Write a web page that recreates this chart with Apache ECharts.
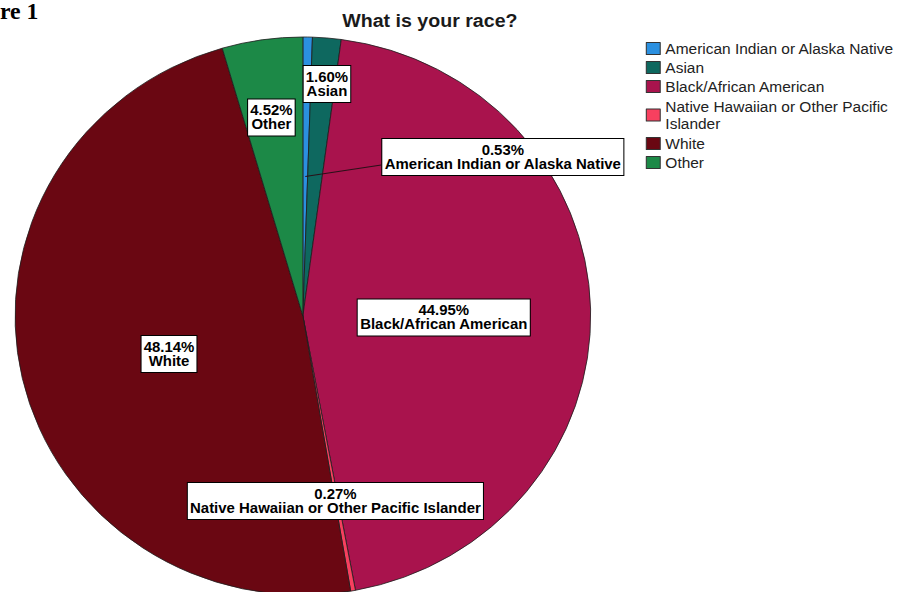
<!DOCTYPE html>
<html>
<head>
<meta charset="utf-8">
<script src="https://cdn.jsdelivr.net/npm/echarts@6/dist/echarts.min.js"></script>
<style>
  html, body { margin: 0; padding: 0; background: #fff; overflow: hidden; }
  #wrap { width: 915px; height: 592px; overflow: hidden; position: relative; }
  /* the figure is drawn slightly narrower and widened to its final aspect */
  #chart { width: 887px; height: 592px; transform: scaleX(1.0316); transform-origin: 0 0; }
</style>
</head>
<body>
<div id="wrap"><div id="chart"></div></div>
<script>
// ---- data ----
const categories = [
  'American Indian or Alaska Native',
  'Asian',
  'Black/African American',
  'Native Hawaiian or Other Pacific Islander',
  'White',
  'Other'
];
const percents = [0.53, 1.60, 44.95, 0.27, 48.14, 4.52];
const sliceColors = ['#2b90e0', '#0e685f', '#a9134d', '#f7405f', '#6a0712', '#1c8947'];
const chartTitle = 'What is your race?';
const figureTag = 're 1';
const legendWrap = { 'Native Hawaiian or Other Pacific Islander': 'Native Hawaiian or Other Pacific\nIslander' };

// ---- layout ----
const CX = 293.6, CY = 316, R = 279;
// offset of each label box centre from its slice's half-radius point
const labelOffsets = [[191.5, -19.5], [11.7, -93], [-2.9, 5], [7.2, 47.6], [6.2, 6.9], [-10.8, -60.4]];
// the one slice whose label sits away from it, joined by a leader line
const calloutIndex = 0;

const total = percents.reduce((a, b) => a + b, 0);
const anchors = [];
let acc = 0;
percents.forEach(v => {
  const mid = (acc + v / 2) / total * 2 * Math.PI;
  anchors.push([CX + R / 2 * Math.sin(mid), CY - R / 2 * Math.cos(mid)]);
  acc += v;
});

let calloutLine = null;

const chart = echarts.init(document.getElementById('chart'), null, { renderer: 'svg' });

const staticGraphics = [
  {
    id: 'tag', type: 'text', left: 0, top: 0, silent: true,
    style: {
      text: figureTag, font: 'bold 23px "Liberation Serif", "Times New Roman", serif',
      lineHeight: 17, fill: '#000'
    }
  },
  {
    id: 'title', type: 'text', x: 416.7, y: 21, silent: true,
    style: {
      text: chartTitle, font: 'bold 19px "Liberation Sans", Arial, sans-serif', fill: '#1a1a1a',
      textAlign: 'center', textVerticalAlign: 'middle'
    }
  }
];

chart.setOption({
  backgroundColor: '#fff',
  animation: false,
  graphic: staticGraphics,
  legend: {
    orient: 'vertical',
    left: 626,
    top: 41,
    padding: 0,
    icon: 'rect',
    itemWidth: 13.5,
    itemHeight: 12,
    itemGap: 4,
    selectedMode: false,
    itemStyle: { borderColor: '#333', borderWidth: 1 },
    textStyle: {
      fontFamily: '"Liberation Sans", Arial, sans-serif',
      fontSize: 15,
      lineHeight: 15,
      color: '#222'
    },
    formatter: name => legendWrap[name] || name,
    data: categories.map(name => legendWrap[name]
      ? { name: name, textStyle: { lineHeight: 17 } }
      : { name: name })
  },
  series: [{
    type: 'pie',
    center: [CX, CY],
    radius: R,
    startAngle: 90,
    clockwise: true,
    avoidLabelOverlap: false,
    silent: true,
    z: 2,
    itemStyle: { borderColor: '#1e1e1e', borderWidth: 0.8 },
    label: {
      position: 'inside',
      formatter: p => p.value.toFixed(2) + '%\n' + p.name,
      fontFamily: '"Liberation Sans", Arial, sans-serif',
      fontWeight: 'bold',
      fontSize: 14.5,
      lineHeight: 14,
      color: '#000',
      backgroundColor: '#fff',
      borderColor: '#000',
      borderWidth: 1,
      padding: [4, 2, 4, 2],
      align: 'center'
    },
    labelLine: { show: false },
    labelLayout: function (params) {
      const i = params.dataIndex;
      const a = anchors[i], o = labelOffsets[i];
      const x = a[0] + o[0], y = a[1] + o[1];
      if (i === calloutIndex) {
        const left = x - params.labelRect.width / 2;
        calloutLine = [[a[0], a[1]], [left, y + 8]];
      }
      return { x: x, y: y, align: 'center', verticalAlign: 'middle' };
    },
    data: categories.map((name, i) => ({
      name: name,
      value: percents[i],
      itemStyle: { color: sliceColors[i] }
    }))
  }]
});

// leader line from the thin slice to its label box
if (calloutLine) {
  chart.setOption({
    graphic: staticGraphics.concat([{
      id: 'callout', type: 'polyline', silent: true, z: 5,
      shape: { points: calloutLine },
      style: { stroke: '#2a1018', lineWidth: 1.2, fill: null }
    }])
  });
}
</script>
</body>
</html>
